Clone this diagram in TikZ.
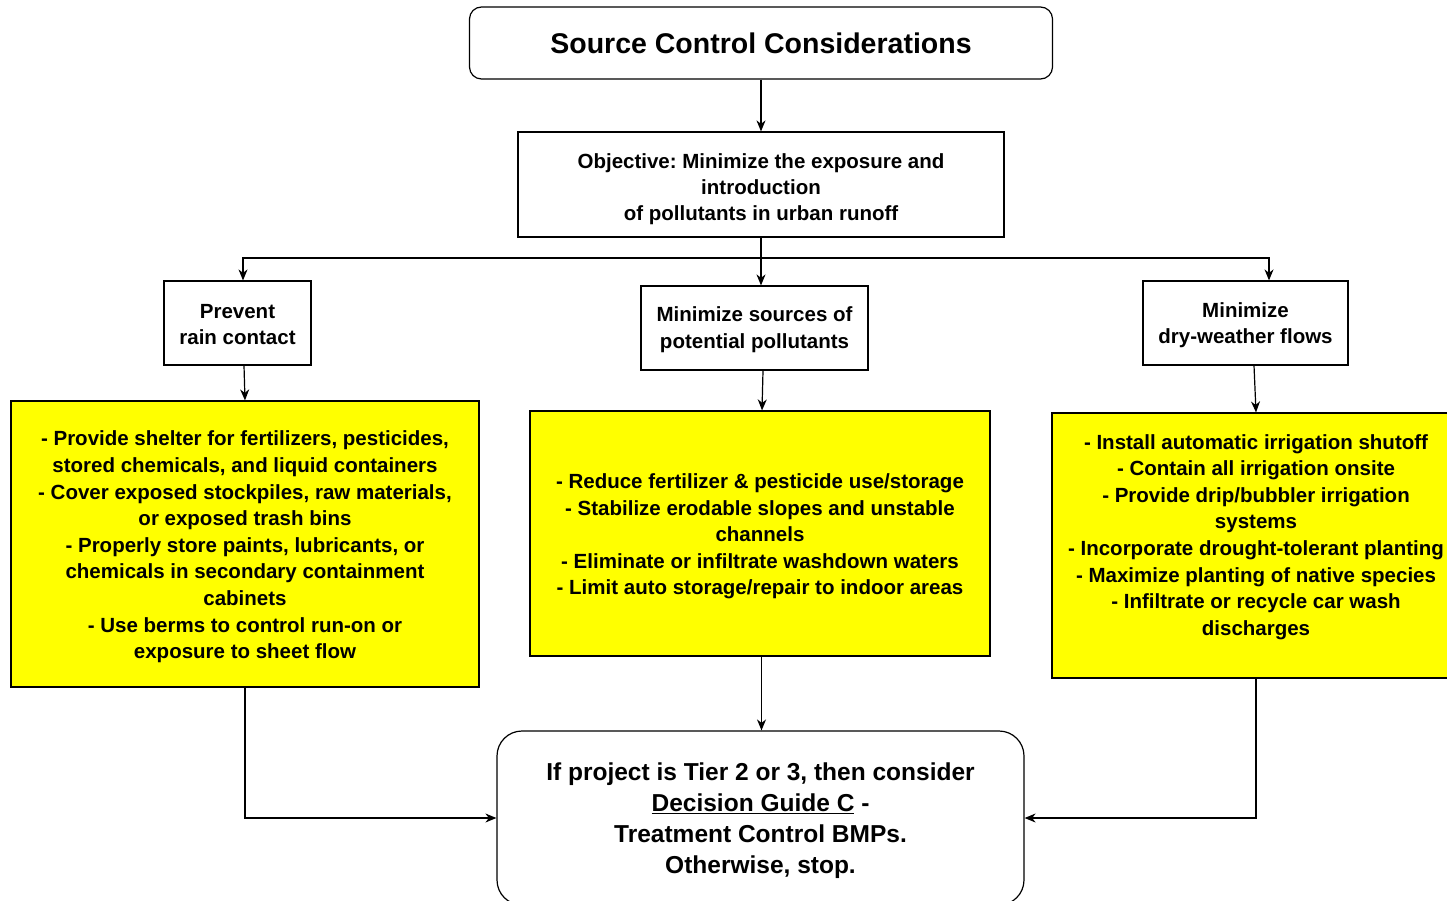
\documentclass[tikz,border=0pt]{standalone}
\usepackage{fontspec}
\setmainfont{Liberation Sans}
\usetikzlibrary{arrows.meta}
\definecolor{yel}{RGB}{255,255,0}
\frenchspacing
\begin{document}
\begin{tikzpicture}[x=1pt,y=-1pt,
  box/.style={draw=black,line width=1.2pt,inner sep=0pt},
  ybox/.style={box,fill=yel},
  txt/.style={align=center,inner sep=0pt,font=\bfseries\fontsize{20.5}{26.6}\selectfont},
  arr/.style={draw=black,line width=1.2pt,-{Stealth[length=11pt,width=9pt,inset=3.5pt]}}]
\clip (0,0) rectangle (1447,901);
\fill[white] (0,0) rectangle (1447,901);

% boxes
\node[box,rounded corners=12pt,minimum width=583pt,minimum height=72pt] (title) at (761,43) {};
\node[box,minimum width=486pt,minimum height=105pt] (obj) at (761,184.5) {};
\node[box,minimum width=147pt,minimum height=84pt] (prev) at (237.5,323) {};
\node[box,minimum width=227pt,minimum height=84pt] (mins) at (754.5,328) {};
\node[box,minimum width=205pt,minimum height=84pt] (dry) at (1245.5,323) {};
\node[ybox,minimum width=468pt,minimum height=286pt] (ly) at (245,544) {};
\node[ybox,minimum width=460pt,minimum height=245pt] (my) at (760,533.5) {};
\node[ybox,minimum width=408pt,minimum height=265pt] (ry) at (1256,545.5) {};
\node[box,rounded corners=25pt,minimum width=527pt,minimum height=174pt] (bot) at (760.5,818) {};

% texts
\node[txt,font=\bfseries\fontsize{28.5}{34}\selectfont] (titlet) at (761,43) {Source Control Considerations};
\node[txt,font=\bfseries\fontsize{20.5}{26}\selectfont] (objt) at (761,189.5) {Objective: Minimize the exposure and\\introduction\\of pollutants in urban runoff};
\node[txt,font=\bfseries\fontsize{20.5}{26.5}\selectfont] (prevt) at (237.5,324.5) {Prevent\\rain contact};
\node[txt,font=\bfseries\fontsize{20.5}{27}\selectfont] (minst) at (754.5,329.5) {Minimize sources of\\potential pollutants};
\node[txt,font=\bfseries\fontsize{20.5}{26.5}\selectfont] (dryt) at (1245.5,325) {Minimize\\dry-weather flows};
\node[txt] (lyt) at (245,547) {- Provide shelter for fertilizers, pesticides,\\stored chemicals, and liquid containers\\- Cover exposed stockpiles, raw materials,\\or exposed trash bins\\- Properly store paints, lubricants, or\\chemicals in secondary containment\\cabinets\\- Use berms to control run-on or\\exposure to sheet flow};
\node[txt] (myt) at (760,536.5) {- Reduce fertilizer \& pesticide use/storage\\- Stabilize erodable slopes and unstable\\channels\\- Eliminate or infiltrate washdown waters\\- Limit auto storage/repair to indoor areas};
\node[txt] (ryt) at (1256,537) {- Install automatic irrigation shutoff\\- Contain all irrigation onsite\\- Provide drip/bubbler irrigation\\systems\\- Incorporate drought-tolerant planting\\- Maximize planting of native species\\- Infiltrate or recycle car wash\\discharges};
\node[txt,font=\bfseries\fontsize{24.5}{31.2}\selectfont] (bott) at (760.5,820.5) {If project is Tier 2 or 3, then consider\\\underline{Decision Guide C} -\\Treatment Control BMPs.\\Otherwise, stop.};

\coordinate (jl) at (243,258);
\coordinate (jr) at (1269,258);

\draw[arr] (title.south) -- (obj.north);
\draw[arr] (obj.south) -- (obj.south |- jl) -| (jl |- prev.north);
\draw[arr] (obj.south) -- (obj.south |- jr) -| (jr |- dry.north);
\draw[arr] (obj.south) -- (obj.south |- mins.north);

\draw[arr] ([xshift=6.5pt]prev.south) -- (ly.north);
\draw[arr] ([xshift=8.5pt]mins.south) -- ([xshift=2pt]my.north);
\draw[arr] ([xshift=8.5pt]dry.south) -- (ry.north);

\draw[arr] (ly.south) |- (bot.west);
\draw[arr] ([xshift=1.5pt]my.south) -- ([xshift=1pt]bot.north);
\draw[arr] (ry.south) |- (bot.east);
\end{tikzpicture}
\end{document}
